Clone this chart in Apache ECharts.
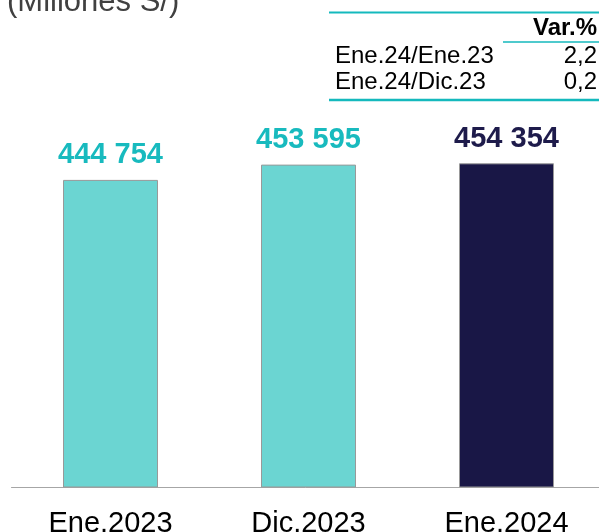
<!DOCTYPE html>
<html>
<head>
<meta charset="utf-8">
<script src="https://cdn.jsdelivr.net/npm/echarts@6/dist/echarts.min.js"></script>
<style>
    html, body { margin: 0; padding: 0; background: #fff; }
    #chart { width: 599px; height: 532px; }
</style>
</head>
<body>
<div id="chart"></div>
<script>
    // datos
    var categorias = ['Ene.2023', 'Dic.2023', 'Ene.2024'];
    var valores = [444754, 453595, 454354];
    var coloresBarra = ['#6bd5d2', '#6bd5d2', '#191746'];
    var coloresEtiqueta = ['#18babe', '#18babe', '#1e1b4b'];
    var filasVar = ['Ene.24/Ene.23', 'Ene.24/Dic.23'];
    var valoresVar = ['2,2', '0,2'];

    function fmt(v) {
        return String(v).replace(/\B(?=(\d{3})+(?!\d))/g, ' ');
    }

    var myChart = echarts.init(document.getElementById('chart'));

    var datos = valores.map(function (v, i) {
        return {
            value: v,
            itemStyle: { color: coloresBarra[i] },
            label: { color: coloresEtiqueta[i] }
        };
    });

    // tabla de variaciones (arriba a la derecha)
    var graficos = [
        { type: 'text', left: 7, top: -13, style: { text: '(Millones S/)', font: '31px Liberation Sans, Arial', fill: '#404040' } },
        { type: 'line', shape: { x1: 329, y1: 12.5, x2: 599, y2: 12.5 }, style: { stroke: '#14b9bd', lineWidth: 2 } },
        { type: 'text', x: 597, y: 16, style: { text: 'Var.%', font: 'bold 24px Liberation Sans, Arial', fill: '#000', align: 'right' } },
        { type: 'line', shape: { x1: 503, y1: 42, x2: 599, y2: 42 }, style: { stroke: '#14b9bd', lineWidth: 1.5 } },
        { type: 'line', shape: { x1: 329, y1: 100, x2: 599, y2: 100 }, style: { stroke: '#14b9bd', lineWidth: 2.5 } }
    ];
    filasVar.forEach(function (f, i) {
        graficos.push({ type: 'text', x: 335, y: 44 + i * 26, style: { text: f, font: '24px Liberation Sans, Arial', fill: '#000' } });
        graficos.push({ type: 'text', x: 597, y: 44 + i * 26, style: { text: valoresVar[i], font: '24px Liberation Sans, Arial', fill: '#000', align: 'right' } });
    });

    var option = {
        animation: false,
        grid: { left: 11.5, width: 594, top: 100, bottom: 45, outerBoundsMode: 'none', containLabel: false },
        xAxis: {
            type: 'category',
            data: categorias,
            axisLine: { show: true, lineStyle: { color: '#a6a6a6', width: 1 } },
            axisTick: { show: false },
            axisLabel: { color: '#000', fontSize: 29, fontFamily: 'Liberation Sans, Arial', margin: 22, interval: 0 }
        },
        yAxis: {
            type: 'value',
            min: 267000,
            max: 491000,
            show: false,
            splitLine: { show: false }
        },
        series: [{
            type: 'bar',
            data: datos,
            barWidth: 95,
            itemStyle: { borderColor: '#999', borderWidth: 1 },
            label: {
                show: true,
                position: 'top',
                distance: 10,
                fontSize: 29,
                fontWeight: 'bold',
                fontFamily: 'Liberation Sans, Arial',
                formatter: function (p) { return fmt(p.value); }
            }
        }],
        graphic: graficos
    };
    myChart.setOption(option);
</script>
</body>
</html>
